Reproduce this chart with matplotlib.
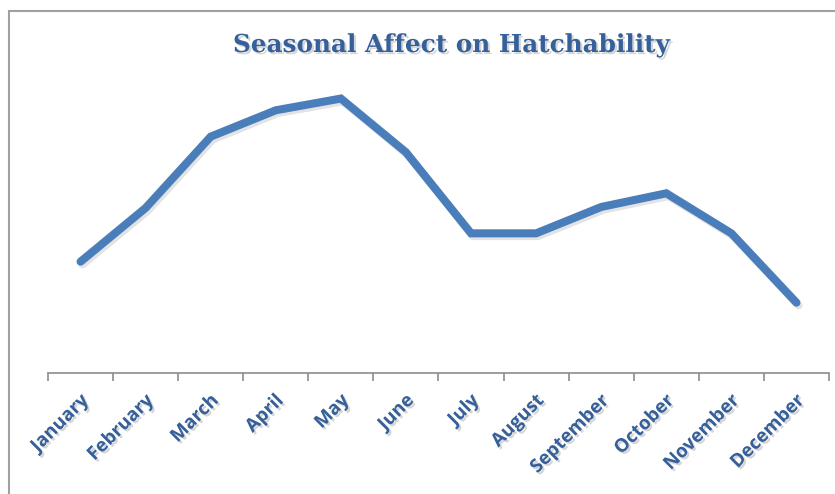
import matplotlib
matplotlib.use("Agg")
import matplotlib.pyplot as plt
import matplotlib.patheffects as pe
from matplotlib.patches import Rectangle
import numpy as np

months = ["January", "February", "March", "April", "May", "June",
          "July", "August", "September", "October", "November", "December"]
hatch = [11.4, 16.9, 24.2, 26.9, 28.1, 22.6, 14.3, 14.3, 17.0, 18.4, 14.3, 7.2]

line_blue = "#4a7ebb"
text_blue = "#36609a"

fig = plt.figure(figsize=(8.35, 4.94), dpi=100)

# chart area frame (runs off the right and bottom edges)
fig.patches.append(Rectangle((9 / 835, -0.1), 1.0, 1.1 - 11 / 494,
                             transform=fig.transFigure, fill=False,
                             edgecolor="#a0a0a0", linewidth=1.5))

ax = fig.add_axes([48 / 835, 121 / 494, 781 / 835, 293 / 494])
x = np.arange(len(months)) + 0.5
line_shadow = [pe.SimpleLineShadow(offset=(1.5, -2), shadow_color="#777777", alpha=0.2),
               pe.Normal()]
ax.plot(x, hatch, color=line_blue, lw=5.8, solid_capstyle="round",
        solid_joinstyle="miter", path_effects=line_shadow)

ax.set_xlim(0, len(months))
ax.set_ylim(0, 30)
ax.set_yticks([])
for s in ["top", "right", "left"]:
    ax.spines[s].set_visible(False)
ax.spines["bottom"].set_color("#8c8c8c")
ax.spines["bottom"].set_linewidth(1.2)

ax.set_xticks(np.arange(len(months) + 1))
ax.set_xticklabels([])
ax.tick_params(axis="x", length=6, width=1.2, color="#8c8c8c")

txt_shadow = [pe.SimplePatchShadow(offset=(1.5, -1.5), shadow_rgbFace="#888888", alpha=0.35),
              pe.Normal()]
for xi, m in zip(x, months):
    ax.text(xi - 0.03, -0.06, m, transform=ax.get_xaxis_transform(),
            rotation=45, ha="right", va="top", rotation_mode="anchor",
            fontsize=13.5, fontweight="bold", family="Open Sans",
            color=text_blue, path_effects=txt_shadow)

fig.text(452 / 835, 1 - 45 / 494, "Seasonal Affect on Hatchability",
         ha="center", va="center", fontsize=17.8, fontweight="bold",
         family="DejaVu Serif", color=text_blue, path_effects=txt_shadow)

fig.savefig("out.png", dpi=100)
